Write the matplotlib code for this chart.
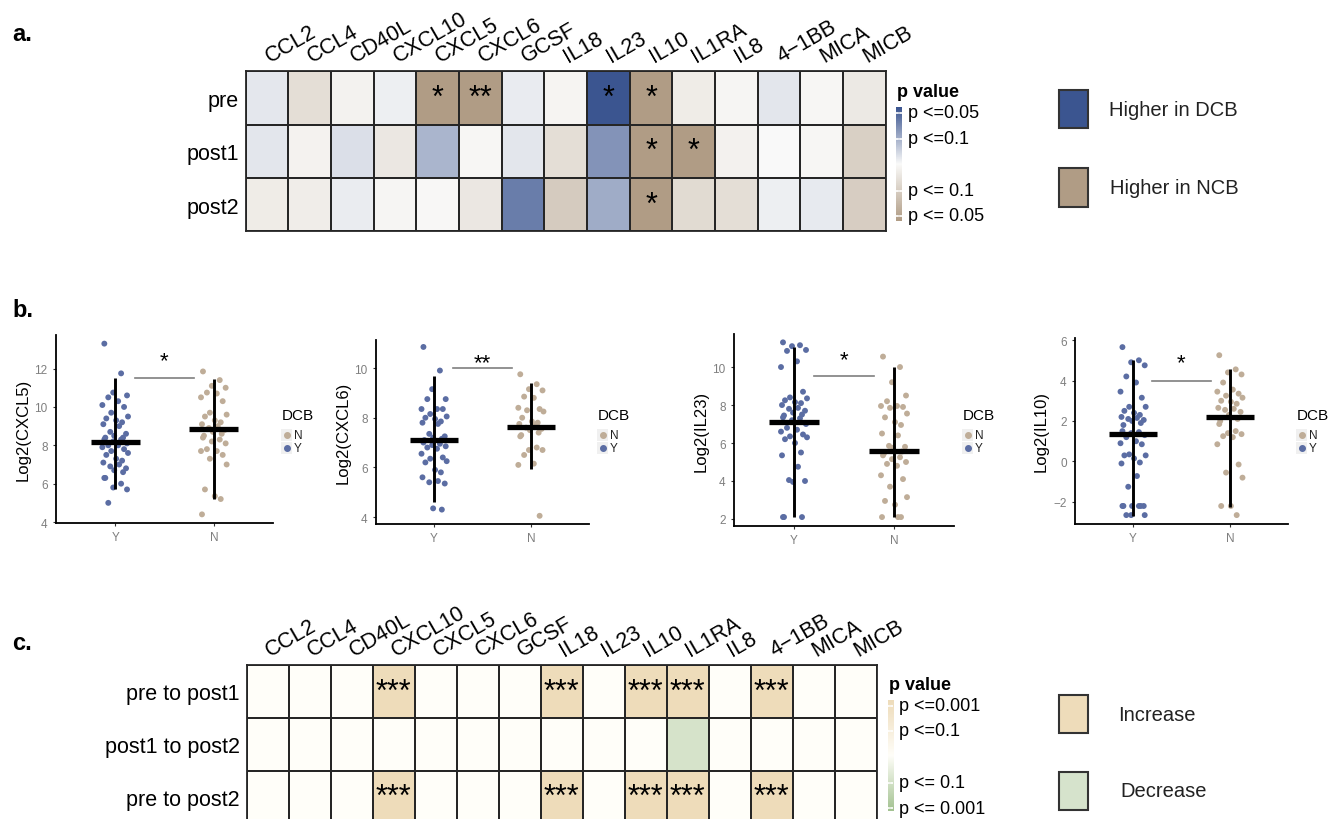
import matplotlib.pyplot as plt
import numpy as np
from matplotlib.colors import LinearSegmentedColormap
from matplotlib.patches import Rectangle

plt.rcParams['font.family'] = ['Liberation Sans', 'DejaVu Sans']

W, H = 1331, 820

cytokines = ['CCL2', 'CCL4', 'CD40L', 'CXCL10', 'CXCL5', 'CXCL6', 'GCSF', 'IL18',
             'IL23', 'IL10', 'IL1RA', 'IL8', '4\u22121BB', 'MICA', 'MICB']

# panel a: signed shade, + = higher in DCB (blue), - = higher in NCB (brown)
a_rows = ['pre', 'post1', 'post2']
a_pre = [0.11, -0.30, -0.09, 0.07, -1, -1, 0.09, -0.06, 1, -1, -0.15, -0.05, 0.12, -0.04, -0.18]
a_post1 = [0.12, -0.08, 0.16, -0.20, 0.42, -0.04, 0.12, -0.30, 0.62, -1, -1, -0.10, 0.0, -0.04, -0.45]
a_post2 = [-0.15, -0.14, 0.08, -0.05, -0.03, -0.20, 0.75, -0.50, 0.47, -1, -0.33, -0.30, 0.07, 0.10, -0.47]
a_star_pre = ['', '', '', '', '*', '**', '', '', '*', '*', '', '', '', '', '']
a_star_post1 = ['', '', '', '', '', '', '', '', '', '*', '*', '', '', '', '']
a_star_post2 = ['', '', '', '', '', '', '', '', '', '*', '', '', '', '', '']

# panel c: + = increase, - = decrease
c_rows = ['pre to post1', 'post1 to post2', 'pre to post2']
c_pre_post1 = [0, 0, 0, 1, 0, 0, 0, 1, 0, 1, 1, 0, 1, 0, 0]
c_post1_post2 = [0, 0, 0, 0, 0, 0, 0, 0, 0, 0, -0.45, 0, 0, 0, 0]
c_pre_post2 = [0, 0, 0, 1, 0, 0, 0, 1, 0, 1, 1, 0, 1, 0, 0]
c_star_pre_post1 = ['', '', '', '***', '', '', '', '***', '', '***', '***', '', '***', '', '']
c_star_post1_post2 = [''] * 15
c_star_pre_post2 = ['', '', '', '***', '', '', '', '***', '', '***', '***', '', '***', '', '']

# panel b: log2 levels, DCB = Y / N
cxcl5_Y = [13.3, 11.75, 10.75, 10.6, 10.5, 10.3, 10.1, 10.0, 9.7, 9.5, 9.4, 9.3, 9.2, 9.1, 9.0,
           8.7, 8.6, 8.5, 8.4, 8.4, 8.3, 8.3, 8.2, 8.1, 8.0, 8.0, 7.9, 7.8, 7.7, 7.6, 7.5, 7.3,
           7.2, 7.1, 7.0, 6.9, 6.8, 6.7, 6.6, 6.3, 6.3, 6.0, 5.8, 5.7, 5.0]
cxcl5_N = [11.85, 11.4, 11.1, 11.0, 10.75, 10.7, 10.5, 10.3, 9.7, 9.6, 9.5, 9.3, 9.2, 9.1, 9.0,
           8.9, 8.8, 8.7, 8.6, 8.5, 8.4, 8.3, 8.2, 8.1, 7.8, 7.7, 7.7, 7.5, 7.3, 7.0, 5.7, 5.35,
           5.2, 4.4]
cxcl6_Y = [10.85, 9.9, 9.15, 8.75, 8.75, 8.35, 8.35, 8.35, 8.15, 8.05, 8.0, 7.95, 7.85, 7.8,
           7.75, 7.35, 7.25, 7.2, 7.15, 7.1, 7.0, 6.95, 6.9, 6.85, 6.8, 6.75, 6.55, 6.4, 6.35,
           6.25, 6.2, 5.9, 5.8, 5.6, 5.45, 5.4, 5.35, 4.35, 4.3]
cxcl6_N = [9.75, 9.35, 9.15, 9.1, 8.85, 8.8, 8.4, 8.35, 8.3, 8.25, 8.0, 7.85, 7.8, 7.75, 7.7,
           7.6, 7.55, 7.5, 7.4, 7.3, 7.25, 6.8, 6.7, 6.7, 6.5, 6.15, 6.1, 4.05]
il23_Y = [11.3, 11.15, 11.1, 10.9, 10.85, 10.3, 10.0, 8.7, 8.4, 8.35, 8.25, 8.15, 8.1, 8.0, 7.85,
          7.8, 7.7, 7.6, 7.5, 7.45, 7.35, 7.3, 7.2, 7.0, 6.8, 6.7, 6.6, 6.45, 6.35, 6.3, 6.2,
          6.0, 5.5, 5.35, 4.75, 4.05, 4.0, 3.95, 2.1, 2.1, 2.1]
il23_N = [10.55, 10.0, 9.2, 8.5, 8.2, 7.95, 7.95, 7.9, 7.85, 7.55, 7.35, 7.1, 6.95, 6.5, 6.4,
          5.85, 5.8, 5.75, 5.55, 5.45, 5.35, 5.25, 5.15, 5.0, 4.9, 4.8, 4.3, 4.1, 3.7, 3.15,
          2.95, 2.75, 2.1, 2.1, 2.1]
il10_Y = [5.65, 5.0, 4.9, 4.75, 4.2, 3.9, 3.45, 3.15, 2.7, 2.7, 2.5, 2.4, 2.3, 2.2, 2.15, 2.1,
          2.05, 2.0, 1.9, 1.8, 1.5, 1.45, 1.4, 1.3, 1.2, 1.0, 0.9, 0.85, 0.35, 0.3, 0.3, 0.15,
          -0.05, -0.1, -0.72, -1.25, -2.2, -2.2, -2.2, -2.2, -2.2, -2.2, -2.65, -2.65, -2.65]
il10_N = [5.25, 4.55, 4.4, 4.3, 3.9, 3.55, 3.45, 3.35, 3.25, 3.15, 3.0, 2.95, 2.85, 2.65, 2.6,
          2.55, 2.45, 2.3, 2.1, 2.0, 1.85, 1.5, 1.4, 1.35, 1.25, 1.2, 0.85, -0.15, -0.55, -0.8,
          -2.2, -2.2, -2.65]

b_names = ['CXCL5', 'CXCL6', 'IL23', 'IL10']
b_means_Y = [8.17, 7.09, 7.10, 1.37]
b_means_N = [8.85, 7.62, 5.58, 2.21]
b_range_Y = [(5.7, 11.5), (4.6, 9.7), (2.1, 11.05), (-2.7, 5.0)]
b_range_N = [(5.18, 11.45), (5.95, 9.4), (2.1, 10.0), (-2.23, 4.58)]
b_bracket = [11.5, 10.0, 9.55, 4.0]
b_star_y = [12.78, 10.48, 10.74, 5.21]
b_stars = ['*', '**', '*', '*']
b_ticks = [[4, 6, 8, 10, 12], [4, 6, 8, 10], [2, 4, 6, 8, 10], [-2, 0, 2, 4, 6]]

jitter = [-0.11, 0.06, -0.02, 0.12, -0.07, 0.03, -0.13, 0.09, -0.04, 0.13, -0.09, 0.01,
          0.07, -0.12, 0.04, -0.05, 0.11, -0.01, 0.08, -0.10]

blue = '#3B5590'
brown = '#B09C85'
blue_pt = '#5B6DA3'
brown_pt = '#BFAD98'
inc_col = '#EEDCBA'
dec_col = '#D6E3CC'
grid_col = '#262626'

cmap_a = LinearSegmentedColormap.from_list('a', [brown, '#FAFAF9', blue])
cmap_c = LinearSegmentedColormap.from_list('c', ['#A3C291', '#FFFEF9', inc_col])

fig = plt.figure(figsize=(W / 100, H / 100), dpi=100)


def px_axes(l, t, r, b):
    return fig.add_axes([l / W, 1 - b / H, (r - l) / W, (b - t) / H])


def fx(x):
    return x / W


def fy(y):
    return 1 - y / H


def heatmap(ax, data, rows, stars, cmap):
    ax.pcolormesh(np.array(data, dtype=float), cmap=cmap, vmin=-1, vmax=1,
                  edgecolors=grid_col, linewidth=1.3)
    ax.set_xlim(0, len(cytokines))
    ax.set_ylim(len(rows), 0)
    for i, srow in enumerate(stars):
        for j, s in enumerate(srow):
            if s:
                ax.text(j + 0.5, i + 0.5, s, ha='center', va='center', fontsize=22)
    ax.set_xticks([])
    ax.set_yticks(np.arange(len(rows)) + 0.5)
    ax.set_yticklabels(rows, fontsize=15.5)
    ax.tick_params(axis='y', length=0, pad=5)
    for j, name in enumerate(cytokines):
        ax.text(j + 0.56, -0.17, name, rotation=30, rotation_mode='anchor',
                ha='left', va='baseline', fontsize=15.5)
    for sp in ax.spines.values():
        sp.set_color(grid_col)
        sp.set_linewidth(1.3)


def colorbar(l, t, r, b, cmap, labels, label_y):
    cax = px_axes(l, t, r, b)
    grad = np.linspace(1, -1, 200).reshape(-1, 1)
    cax.imshow(grad, cmap=cmap, vmin=-1, vmax=1, aspect='auto', extent=(0, 1, b, t))
    for y in label_y:
        cax.plot([0, 0.3], [y, y], color='white', lw=1.2)
        cax.plot([0.7, 1], [y, y], color='white', lw=1.2)
    cax.set_xlim(0, 1)
    cax.set_ylim(b, t)
    cax.axis('off')
    fig.text(fx(l + 1), fy(t - 11), 'p value', fontsize=13, weight='bold', va='baseline')
    for lab, y in zip(labels, label_y):
        fig.text(fx(r + 6), fy(y), lab, fontsize=13, va='center')


def legend_box(t, b, color, label, text_x):
    fig.add_artist(Rectangle((fx(1059), fy(b)), fx(1088) - fx(1059), fy(t) - fy(b),
                             transform=fig.transFigure, facecolor=color,
                             edgecolor='#333333', linewidth=1.5))
    fig.text(fx(text_x), fy((t + b) / 2), label, fontsize=14.5, va='center', color='#222222')


# ---- panel a
ax_a = px_axes(245.7, 72.3, 885.7, 232.3)
heatmap(ax_a, [a_pre, a_post1, a_post2], a_rows,
        [a_star_pre, a_star_post1, a_star_post2], cmap_a)
colorbar(896, 107.7, 901.7, 221.7, cmap_a,
         ['p <=0.05', 'p <=0.1', 'p <= 0.1', 'p <= 0.05'], [114, 140, 191.7, 216.7])
legend_box(90.7, 129.3, blue, 'Higher in DCB', 1109)
legend_box(169, 207.7, brown, 'Higher in NCB', 1110)

# ---- panel b
b_boxes = [(56, 336, 273, 524, 3.95, 13.75),
           (376, 341, 589, 525, 3.72, 11.13),
           (734, 335, 954, 527, 1.63, 11.74),
           (1075, 339, 1288, 525, -3.09, 6.1)]
b_data = [(cxcl5_Y, cxcl5_N), (cxcl6_Y, cxcl6_N), (il23_Y, il23_N), (il10_Y, il10_N)]

for k, (l, t, r, b, y0, y1) in enumerate(b_boxes):
    ax = px_axes(l, t, r, b)
    yv, nv = b_data[k]
    for xi, vals, col in [(1, yv, blue_pt), (2, nv, brown_pt)]:
        offs = np.array([jitter[i % len(jitter)] for i in range(len(vals))])
        ax.scatter(xi + offs, vals, s=18, color=col, edgecolors='none', zorder=2)
    ax.vlines([1, 2], [b_range_Y[k][0], b_range_N[k][0]], [b_range_Y[k][1], b_range_N[k][1]],
              color='black', lw=2.1, zorder=3)
    ax.hlines([b_means_Y[k], b_means_N[k]], [0.75, 1.75], [1.25, 2.25],
              color='black', lw=3.8, zorder=3)
    ax.plot([1.2, 1.8], [b_bracket[k]] * 2, color='#7F7F7F', lw=1.2)
    ax.annotate(b_stars[k], (1.5, b_star_y[k]), xytext=(0, -9), textcoords='offset points',
                ha='center', va='baseline', fontsize=16)
    ax.set_xlim(0.4, 2.6)
    ax.set_ylim(y0, y1)
    ax.set_xticks([1, 2])
    ax.set_xticklabels(['Y', 'N'])
    ax.set_yticks(b_ticks[k])
    ax.tick_params(colors='#333333', labelcolor='#7F7F7F', labelsize=8.5, length=2.5, width=0.8)
    ax.set_ylabel('Log2(%s)' % b_names[k], fontsize=12, labelpad=3)
    for sp in ['top', 'right']:
        ax.spines[sp].set_visible(False)
    for sp in ['left', 'bottom']:
        ax.spines[sp].set_linewidth(1.3)
    # legend
    lx = r + 9
    fig.text(fx(lx), fy(416), 'DCB', fontsize=11, va='center')
    for yk, lab, col in [(436, 'N', brown_pt), (448.5, 'Y', blue_pt)]:
        fig.add_artist(Rectangle((fx(lx - 1), fy(yk + 6)), fx(11), fy(0) - fy(12),
                                 transform=fig.transFigure, facecolor='#F0F0F0',
                                 edgecolor='none'))
        fig.add_artist(plt.Line2D([fx(lx + 4.5)], [fy(yk)], marker='o', markersize=4,
                                  color=col, transform=fig.transFigure))
        fig.text(fx(lx + 12), fy(yk), lab, fontsize=8.5, va='center', color='#222222')

# ---- panel c
ax_c = px_axes(246.7, 666, 876.7, 824.7)
heatmap(ax_c, [c_pre_post1, c_post1_post2, c_pre_post2], c_rows,
        [c_star_pre_post1, c_star_post1_post2, c_star_pre_post2], cmap_c)
colorbar(887.7, 701, 892.7, 811.7, cmap_c,
         ['p <=0.001', 'p <=0.1', 'p <= 0.1', 'p <= 0.001'], [706.7, 731.7, 784, 809.3])
legend_box(696, 734.3, inc_col, 'Increase', 1118)
legend_box(772.7, 811, dec_col, 'Decrease', 1120)

# panel letters
fig.text(fx(12), fy(41), 'a.', fontsize=17, weight='bold', va='baseline')
fig.text(fx(12), fy(317), 'b.', fontsize=17, weight='bold', va='baseline')
fig.text(fx(12), fy(650), 'c.', fontsize=17, weight='bold', va='baseline')

fig.savefig('out.png', dpi=100)
